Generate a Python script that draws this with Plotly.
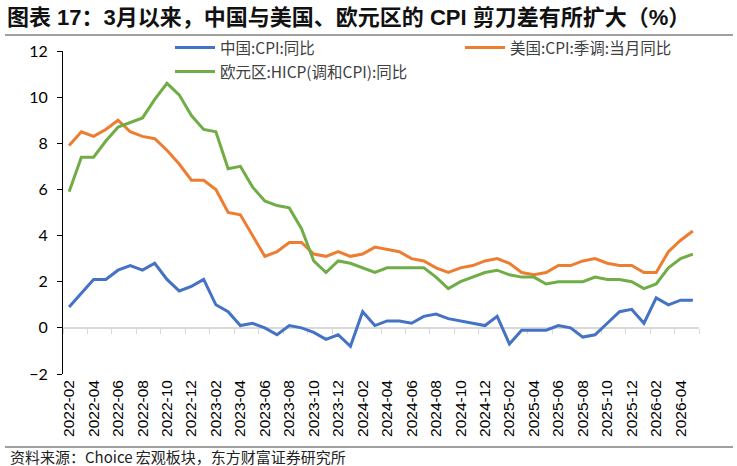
import plotly.graph_objects as go

months = ["2022-02","2022-03","2022-04","2022-05","2022-06","2022-07","2022-08","2022-09","2022-10","2022-11","2022-12",
          "2023-01","2023-02","2023-03","2023-04","2023-05","2023-06","2023-07","2023-08","2023-09","2023-10","2023-11","2023-12",
          "2024-01","2024-02","2024-03","2024-04","2024-05","2024-06","2024-07","2024-08","2024-09","2024-10","2024-11","2024-12",
          "2025-01","2025-02","2025-03","2025-04","2025-05","2025-06","2025-07","2025-08","2025-09","2025-10","2025-11","2025-12",
          "2026-01","2026-02","2026-03","2026-04","2026-05"]

china_cpi = [0.9,1.5,2.1,2.1,2.5,2.7,2.5,2.8,2.1,1.6,1.8,
             2.1,1.0,0.7,0.1,0.2,0.0,-0.3,0.1,0.0,-0.2,-0.5,-0.3,
             -0.8,0.7,0.1,0.3,0.3,0.2,0.5,0.6,0.4,0.3,0.2,0.1,
             0.5,-0.7,-0.1,-0.1,-0.1,0.1,0.0,-0.4,-0.3,0.2,0.7,0.8,
             0.2,1.3,1.0,1.2,1.2]

us_cpi = [7.9,8.5,8.3,8.6,9.0,8.5,8.3,8.2,7.7,7.1,6.4,
          6.4,6.0,5.0,4.9,4.0,3.1,3.3,3.7,3.7,3.2,3.1,3.3,
          3.1,3.2,3.5,3.4,3.3,3.0,2.9,2.6,2.4,2.6,2.7,2.9,
          3.0,2.8,2.4,2.3,2.4,2.7,2.7,2.9,3.0,2.8,2.7,2.7,
          2.4,2.4,3.3,3.8,4.2]

euro_hicp = [5.9,7.4,7.4,8.1,8.7,8.9,9.1,9.9,10.6,10.1,9.2,
             8.6,8.5,6.9,7.0,6.1,5.5,5.3,5.2,4.3,2.9,2.4,2.9,
             2.8,2.6,2.4,2.6,2.6,2.6,2.6,2.2,1.7,2.0,2.2,2.4,
             2.5,2.3,2.2,2.2,1.9,2.0,2.0,2.0,2.2,2.1,2.1,2.0,
             1.7,1.9,2.6,3.0,3.2]

names = ["中国:CPI:同比", "美国:CPI:季调:当月同比", "欧元区:HICP(调和CPI):同比"]
colors = ["#4472C4", "#ED7D31", "#70AD47"]
y_ticks = [-2, 0, 2, 4, 6, 8, 10, 12]

title_text = "<b>图表 17：3月以来，中国与美国、欧元区的 CPI 剪刀差有所扩大（%）</b>"
source_text = "资料来源：Choice 宏观板块，东方财富证券研究所"

W, H = 737, 466
ML, MR, MT, MB = 63, 38, 51, 92
PW, PH = W - ML - MR, H - MT - MB

def px_x(p):
    return (p - ML) / PW

def px_y(p):
    return (H - MB - p) / PH

idx = list(range(len(months)))

fig = go.Figure()
fig.add_trace(go.Scatter(x=[None], y=[None], xaxis="x2", yaxis="y", showlegend=False, hoverinfo="skip"))
series = [china_cpi, us_cpi, euro_hicp]
legend_ids = ["legend", "legend2", "legend3"]
for vals, nm, col, lg in zip(series, names, colors, legend_ids):
    fig.add_trace(go.Scatter(x=idx, y=vals, name=nm, mode="lines",
                             line=dict(color=col, width=3), legend=lg))

xr = [-0.5, len(months) - 0.5]
boundary_ticks = [i - 0.5 for i in range(0, len(months) + 1, 2)]

legend_font = dict(family="Noto Sans CJK SC", size=15.5, color="#404040")

def mk_legend(xp, yp):
    return dict(orientation="h", x=px_x(xp), xanchor="left", y=px_y(yp), yanchor="middle",
                itemwidth=40, font=legend_font, bgcolor="rgba(0,0,0,0)")

fig.update_layout(
    width=W, height=H,
    margin=dict(l=ML, r=MR, t=MT, b=MB),
    paper_bgcolor="white", plot_bgcolor="white",
    font=dict(family="Noto Sans CJK SC", color="#000000"),
    title=dict(text=title_text, x=7 / W, xanchor="left", xref="container",
               y=1 - 17 / H, yanchor="middle", yref="container",
               font=dict(family="Liberation Sans, Noto Sans CJK SC", size=22, color="#111111")),
    xaxis=dict(range=xr, tickmode="array", tickvals=idx[::2], ticktext=months[::2],
               tickangle=-90, showline=False, showgrid=False, zeroline=False, ticks="",
               tickfont=dict(family="Liberation Sans, Arial", size=15.5, color="#000000"),
               ticklabelstandoff=2),
    xaxis2=dict(range=xr, overlaying="x", anchor="free", position=2 / 14,
                tickmode="array", tickvals=boundary_ticks, ticks="outside", ticklen=5,
                tickcolor="#D9D9D9", tickwidth=1, showticklabels=False,
                showline=True, linecolor="#D9D9D9", linewidth=1.5, showgrid=False,
                zeroline=False, layer="below traces"),
    yaxis=dict(range=[-2, 12], tickmode="array", tickvals=y_ticks, showgrid=False,
               zeroline=False, showline=True, linecolor="#000000", linewidth=1,
               ticks="outside", ticklen=5, tickcolor="#000000",
               tickfont=dict(family="Lato, Carlito", size=16, color="#000000"),
               ticklabelstandoff=6),
    legend=mk_legend(170, 48),
    legend2=mk_legend(460, 48),
    legend3=mk_legend(170, 72),
    shapes=[
        dict(type="line", xref="paper", yref="paper", x0=px_x(5), x1=px_x(733),
             y0=px_y(35), y1=px_y(35), line=dict(color="#808080", width=1.5)),
        dict(type="line", xref="paper", yref="paper", x0=px_x(5), x1=px_x(733),
             y0=px_y(447), y1=px_y(447), line=dict(color="#404040", width=1)),
    ],
    annotations=[
        dict(text=source_text, xref="paper", yref="paper", x=px_x(8), y=px_y(456),
             xanchor="left", yanchor="middle", showarrow=False,
             font=dict(family="Noto Sans CJK SC", size=15, color="#222222")),
    ],
)

fig.write_html("out.html")
